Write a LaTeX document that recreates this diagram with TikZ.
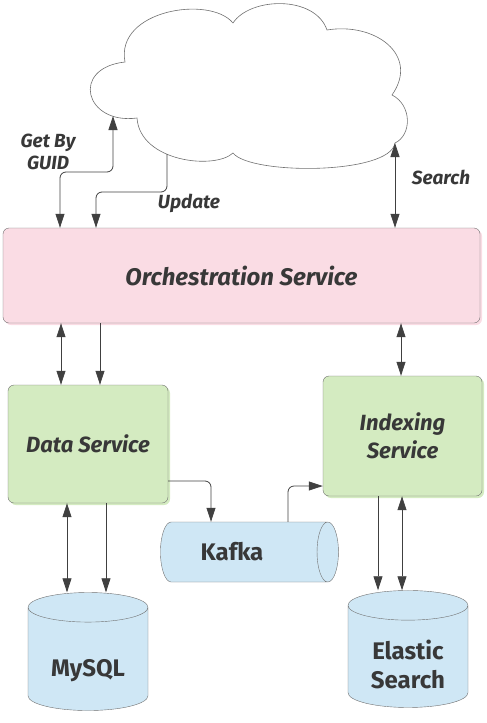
\documentclass[tikz,border=0pt]{standalone}
\usepackage{fontspec}
\setmainfont{Fira Sans}
\usetikzlibrary{arrows.meta,shapes.geometric,shadows}

\definecolor{orchpink}{HTML}{FADCE4}
\definecolor{svcgreen}{HTML}{D4EBC1}
\definecolor{dbblue}{HTML}{CFE7F5}
\definecolor{boxgray}{HTML}{707070}
\definecolor{linegray}{HTML}{404040}
\definecolor{labelgray}{HTML}{383838}

\begin{document}
\begin{tikzpicture}[x=1pt,y=-1pt]
    \tikzset{svc/.style = {draw=boxgray, rounded corners=6pt, text=labelgray, align=center, inner sep=0pt}}
    \tikzset{db/.style = {cylinder, draw=boxgray, fill=dbblue, text=labelgray, inner sep=0pt}}
    \tikzset{link/.style = {draw=linegray, line width=0.8pt, rounded corners=6pt}}
    \tikzset{oneway/.style = {-{Triangle[length=14pt,width=9pt]}}}
    \tikzset{twoway/.style = {{Triangle[length=14pt,width=9pt]}-{Triangle[length=14pt,width=9pt]}}}
    \tikzset{lbl/.style = {text=labelgray, align=center, font=\bfseries\itshape\fontsize{19}{22}\selectfont}}
    \useasboundingbox (0,0) rectangle (487,723);
    % cloud
    \draw[draw=boxgray, fill=white, line width=0.6pt]
        (137,118) .. controls (85,125) and (70,68) .. (125,62)
        .. controls (115,10) and (210,-5) .. (233,23)
        .. controls (250,-3) and (315,-5) .. (327,30)
        .. controls (375,22) and (420,55) .. (392,95)
        .. controls (412,105) and (412,135) .. (395,143)
        .. controls (390,175) and (250,175) .. (233,153)
        .. controls (215,170) and (140,162) .. cycle;
    \coordinate (gbg) at (113,116);
    \coordinate (upd) at (167,154);
    \coordinate (srch) at (395,143);
    % services
    \node[svc, fill=orchpink, general shadow={fill=orchpink, shadow xshift=2pt, shadow yshift=-2pt},
          minimum width=477pt, minimum height=95pt, font=\bfseries\itshape\fontsize{24}{28}\selectfont]
          (orch) at (241.5,275.5) {Orchestration Service};
    \node[svc, fill=svcgreen, general shadow={fill=svcgreen, shadow xshift=2pt, shadow yshift=-2pt},
          minimum width=160pt, minimum height=118pt, font=\bfseries\itshape\fontsize{22}{28}\selectfont]
          (data) at (88,444) {Data Service};
    \node[svc, fill=svcgreen, general shadow={fill=svcgreen, shadow xshift=2pt, shadow yshift=-2pt},
          minimum width=159pt, minimum height=120pt, font=\bfseries\itshape\fontsize{22}{28}\selectfont]
          (idx) at (402.5,436) {Indexing\\Service};
    % stores
    \node[db, shape aspect=1.15, minimum width=60pt, minimum height=178pt,
          font=\bfseries\fontsize{24}{28}\selectfont] (kafka) at (244,552) {Kafka\hspace*{24pt}};
    \node[db, shape border rotate=90, shape aspect=0.4, minimum width=120pt, minimum height=118pt,
          font=\bfseries\fontsize{24}{28}\selectfont] (mysql) at (88,659)
          {\raisebox{-12pt}[\height][\depth]{MySQL}};
    \node[db, shape border rotate=90, shape aspect=0.4, minimum width=120pt, minimum height=117pt,
          font=\bfseries\fontsize{24}{29}\selectfont] (es) at (408,656.5)
          {\raisebox{-12pt}[\height][\depth]{\begin{tabular}{@{}c@{}}Elastic\\Search\end{tabular}}};
    % labels
    \node[lbl] (getlbl) at (48,152) {Get By\\GUID};
    \node[lbl] (updlbl) at (189,203) {Update};
    \node[lbl] (srchlbl) at (441,177) {Search};
    % connectors
    \draw[link, twoway] (60,0 |- orch.north) -- (60,172) -- (113,172) -- (gbg);
    \draw[link, oneway] (upd) -- (167,192) -- (96,192) -- (96,0 |- orch.north);
    \draw[link, twoway] (srch) -- (395,0 |- orch.north);
    \draw[link, twoway] (61,0 |- orch.south) -- (61,0 |- data.north);
    \draw[link, oneway] (100,0 |- orch.south) -- (100,0 |- data.north);
    \draw[link, twoway] (401,0 |- orch.south) -- (401,0 |- idx.north);
    \draw[link, oneway] (data.east |- 0,481) -- (211,481) -- (211,0 |- kafka.north);
    \draw[link, oneway] (288,0 |- kafka.north) -- (288,486) -- (idx.west |- 0,486);
    \draw[link, twoway] (67,0 |- data.south) -- (67,0 |- mysql.north);
    \draw[link, oneway] (106,0 |- data.south) -- (106,0 |- mysql.north);
    \draw[link, oneway] (378,0 |- idx.south) -- (378,0 |- es.north);
    \draw[link, twoway] (402,0 |- idx.south) -- (402,0 |- es.north);
\end{tikzpicture}
\end{document}
